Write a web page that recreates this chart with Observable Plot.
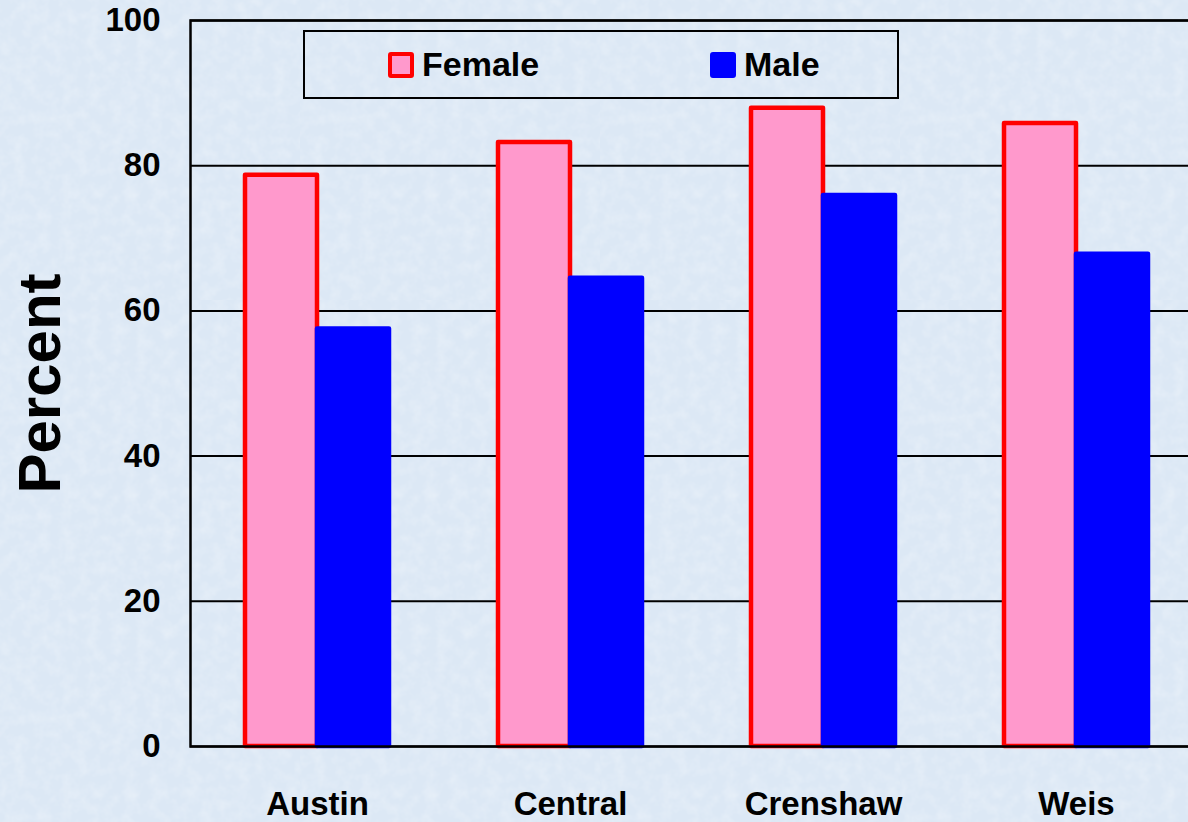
<!DOCTYPE html>
<html>
<head>
<meta charset="utf-8">
<script src="https://cdn.jsdelivr.net/npm/d3@7"></script>
<script src="https://cdn.jsdelivr.net/npm/@observablehq/plot@0.6"></script>
<style>
  html, body { margin: 0; padding: 0; width: 1188px; height: 822px; overflow: hidden; }
  body {
    background-color: #dce8f5;
    background-image: url("data:image/svg+xml;utf8,<svg xmlns='http://www.w3.org/2000/svg' width='300' height='300'><filter id='n'><feTurbulence type='fractalNoise' baseFrequency='0.08' numOctaves='3' seed='4'/><feColorMatrix type='matrix' values='0 0 0 0 1  0 0 0 0 1  0 0 0 0 1  0 0 0 0.9 -0.35'/></filter><rect width='300' height='300' filter='url(%23n)' opacity='0.55'/></svg>");
    font-family: "Liberation Sans", Arial, sans-serif;
  }
  #wrap { position: relative; width: 1202px; height: 822px; }
  #wrap svg { position: absolute; left: 0; top: 0; background: transparent; overflow: visible; }
  #legend {
    position: absolute; left: 303px; top: 30px; width: 592px; height: 65px;
    border: 2px solid #000; box-sizing: content-box;
  }
  .item { position: absolute; top: 0; height: 65px; display: flex; align-items: center;
          font-weight: bold; font-size: 34px; color: #000; }
  .sw { width: 18px; height: 18px; border: 4px solid; border-radius: 3px; margin-right: 8px; }
</style>
</head>
<body>
<div id="wrap"></div>
<script>
const categories = ["Austin", "Central", "Crenshaw", "Weis"];
const seriesNames = ["Female", "Male"];
const female = [78.7, 83.2, 87.9, 85.8];
const male = [57.5, 64.5, 75.9, 67.8];
const yTicks = [0, 20, 40, 60, 80, 100];
const fillColors = ["#ff99cc", "#0000ff"];
const strokeColors = ["#ff0000", "#0000ff"];

const femaleRows = categories.map((c, i) => ({category: c, value: female[i]}));
const maleRows = categories.map((c, i) => ({category: c, value: male[i]}));

const chart = Plot.plot({
  width: 1202,
  height: 822,
  marginLeft: 190,
  marginRight: 0,
  marginTop: 20,
  marginBottom: 76,
  style: {background: "transparent", fontFamily: "'Liberation Sans', Arial, sans-serif", overflow: "visible"},
  x: {domain: categories, paddingInner: 1 - 72 / 253, paddingOuter: (1 - 72 / 253) / 2, label: null},
  y: {domain: [0, 100], label: null},
  marks: [
    Plot.ruleY(yTicks, {stroke: "#000", strokeWidth: 2}),
    Plot.barY(femaleRows, {x: "category", y: "value", dx: -36, fill: fillColors[0], stroke: strokeColors[0], strokeWidth: 4.5, strokeLinejoin: "round"}),
    Plot.barY(maleRows, {x: "category", y: "value", dx: 36, fill: fillColors[1], stroke: strokeColors[1], strokeWidth: 4.5, strokeLinejoin: "round"}),
    Plot.frame({stroke: "#000", strokeWidth: 2.5}),
    Plot.axisY({ticks: yTicks, tickSize: 0, tickPadding: 30, fontSize: 33, fontWeight: "bold", label: null}),
    Plot.axisY({ticks: [], label: "Percent", labelAnchor: "center", labelArrow: "none", labelOffset: 173, fontSize: 60, fontWeight: "bold"}),
    Plot.axisX({tickSize: 0, tickPadding: 45, fontSize: 33, fontWeight: "bold", label: null})
  ]
});
chart.querySelectorAll("text").forEach(t => { t.setAttribute("fill", "#000"); });
document.getElementById("wrap").appendChild(chart);

const legend = document.createElement("div");
legend.id = "legend";
const positions = [83, 405];
seriesNames.forEach((name, i) => {
  const item = document.createElement("div");
  item.className = "item";
  item.style.left = positions[i] + "px";
  const sw = document.createElement("span");
  sw.className = "sw";
  sw.style.background = fillColors[i];
  sw.style.borderColor = strokeColors[i];
  const label = document.createElement("span");
  label.textContent = name;
  item.appendChild(sw);
  item.appendChild(label);
  legend.appendChild(item);
});
document.getElementById("wrap").appendChild(legend);
</script>
</body>
</html>
